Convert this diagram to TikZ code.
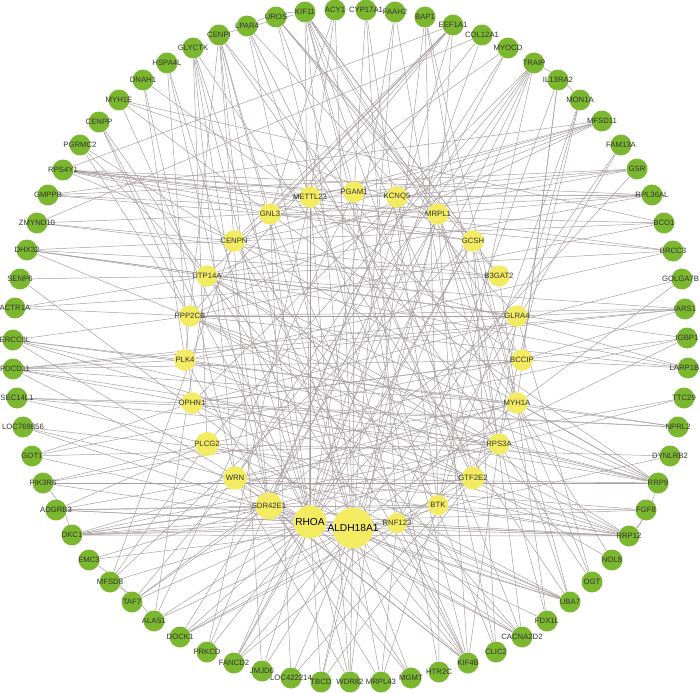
\documentclass[tikz,border=0pt]{standalone}
\usepackage{fontspec}
\setmainfont{Liberation Sans}
\usepackage{xcolor}
\usetikzlibrary{backgrounds}
\definecolor{leaf}{RGB}{124,183,48}
\definecolor{lemon}{RGB}{243,235,98}
\definecolor{wire}{RGB}{168,158,160}
\tikzset{
  tag/.style={font=\fontsize{4.4}{5}\selectfont, text=black!80, inner sep=0pt},
  bigtag/.style={font=\fontsize{5.8}{7}\selectfont, text=black, inner sep=0pt},
  gene/.style={circle, fill=leaf, minimum size=0.42cm, inner sep=0pt, label={[tag]center:#1}},
  rimgene/.style 2 args={circle, fill=leaf, minimum size=0.42cm, inner sep=0pt, label={[tag, xshift=#2]center:#1}},
  hub/.style={circle, fill=lemon, minimum size=0.43cm, inner sep=0pt, label={[tag]center:#1}},
  bighub/.style={circle, fill=lemon, inner sep=0pt, label={[bigtag]center:#1}},
  link/.style={draw=wire, line width=0.28pt},
}

\begin{document}
\begin{tikzpicture}[x=0.02cm, y=-0.02cm]
\useasboundingbox (0,0) rectangle (700,693);

% outer ring
\node[gene=KIF11] (KIF11) at (305,12) {};
\node[gene=ACY1] (ACY1) at (335,10) {};
\node[gene=CYP17A1] (CYP17A1) at (366,10) {};
\node[gene=FAAH2] (FAAH2) at (395,12) {};
\node[gene=BAP1] (BAP1) at (425,17) {};
\node[gene=EEF1A1] (EEF1A1) at (453,25) {};
\node[gene=COL12A1] (COL12A1) at (482,35) {};
\node[gene=MYOCD] (MYOCD) at (508,48) {};
\node[gene=TRAIP] (TRAIP) at (534,63) {};
\node[gene=IL13RA2] (IL13RA2) at (558,80) {};
\node[gene=MON1A] (MON1A) at (580,100) {};
\node[gene=MFSD11] (MFSD11) at (602,121) {};
\node[gene=FAM13A] (FAM13A) at (621,145) {};
\node[gene=GSR] (GSR) at (637,169) {};
\node[gene=RPL36AL] (RPL36AL) at (652,195) {};
\node[gene=BCO1] (BCO1) at (664,223) {};
\node[gene=BRCC3] (BRCC3) at (673,251) {};
\node[rimgene={GOLGA7B}{-0.03cm}] (GOLGA7B) at (682,279) {};
\node[gene=IARS1] (IARS1) at (685,309) {};
\node[gene=IGBP1] (IGBP1) at (687,338) {};
\node[rimgene={LARP1B}{-0.07cm}] (LARP1B) at (688,368) {};
\node[gene=TTC29] (TTC29) at (684,398) {};
\node[gene=NPRL2] (NPRL2) at (678,427) {};
\node[gene=DYNLRB2] (DYNLRB2) at (670,456) {};
\node[gene=RRP9] (RRP9) at (658,483) {};
\node[gene=FGF8] (FGF8) at (646,510) {};
\node[gene=RRP12] (RRP12) at (629,536) {};
\node[gene=NOL8] (NOL8) at (612,560) {};
\node[gene=OGT] (OGT) at (592,582) {};
\node[gene=UBA7] (UBA7) at (570,602) {};
\node[gene=FDX1L] (FDX1L) at (547,621) {};
\node[gene=CACNA2D2] (CACNA2D2) at (522,637) {};
\node[gene=CLIC2] (CLIC2) at (496,652) {};
\node[gene=KIF4B] (KIF4B) at (468,663) {};
\node[gene=HTR2C] (HTR2C) at (439,672) {};
\node[gene=MGMT] (MGMT) at (411,678) {};
\node[gene=MRPL43] (MRPL43) at (381,682) {};
\node[gene=WDR82] (WDR82) at (350,682) {};
\node[gene=TBCD] (TBCD) at (321,682) {};
\node[gene=LOC422214] (LOC422214) at (291,678) {};
\node[gene=JMJD6] (JMJD6) at (262,671) {};
\node[gene=FANCD2] (FANCD2) at (234,663) {};
\node[gene=PRKCD] (PRKCD) at (207,652) {};
\node[gene=DOCK1] (DOCK1) at (180,637) {};
\node[gene=ALAS1] (ALAS1) at (154,621) {};
\node[gene=TAF7] (TAF7) at (132,602) {};
\node[gene=MFSD8] (MFSD8) at (110,582) {};
\node[gene=EMC3] (EMC3) at (89,560) {};
\node[gene=DKC1] (DKC1) at (72,535) {};
\node[gene=ADGRB3] (ADGRB3) at (56,510) {};
\node[gene=PIK3R6] (PIK3R6) at (43,483) {};
\node[gene=GOT1] (GOT1) at (32,456) {};
\node[gene=LOC769856] (LOC769856) at (23,427) {};
\node[gene=SEC14L1] (SEC14L1) at (17,398) {};
\node[rimgene={PDCD11}{0.04cm}] (PDCD11) at (13,369) {};
\node[rimgene={ERCC6L}{0.04cm}] (ERCC6L) at (13,340) {};
\node[gene=ACTR1A] (ACTR1A) at (15,308) {};
\node[gene=SENP6] (SENP6) at (20,279) {};
\node[gene=DHX32] (DHX32) at (27,250) {};
\node[gene=ZMYND10] (ZMYND10) at (37,223) {};
\node[gene=GMPPB] (GMPPB) at (48,195) {};
\node[gene=RPS4Y1] (RPS4Y1) at (63,170) {};
\node[gene=PGRMC2] (PGRMC2) at (80,145) {};
\node[gene=CENPP] (CENPP) at (99,122) {};
\node[gene=MYH1E] (MYH1E) at (119,100) {};
\node[gene=DNAH1] (DNAH1) at (143,80) {};
\node[gene=HSPA4L] (HSPA4L) at (167,63) {};
\node[gene=GLYCTK] (GLYCTK) at (193,48) {};
\node[gene=CENPI] (CENPI) at (219,35) {};
\node[gene=LPAR4] (LPAR4) at (247,26) {};
\node[gene=UROS] (UROS) at (276,17) {};

% inner ring
\node[hub=METTL23] (METTL23) at (310,197) {};
\node[hub=PGAM1] (PGAM1) at (354,192) {};
\node[hub=KCNQ5] (KCNQ5) at (397,197) {};
\node[hub=GNL3] (GNL3) at (270,214) {};
\node[hub=MRPL1] (MRPL1) at (438,214) {};
\node[hub=CENPN] (CENPN) at (234,241) {};
\node[hub=GCSH] (GCSH) at (473,241) {};
\node[hub=UTP14A] (UTP14A) at (207,276) {};
\node[hub=B3GAT2] (B3GAT2) at (499,276) {};
\node[hub=PPP2CB] (PPP2CB) at (190,316) {};
\node[hub=GLRA4] (GLRA4) at (517,316) {};
\node[hub=PLK4] (PLK4) at (185,360) {};
\node[hub=BCCIP] (BCCIP) at (522,360) {};
\node[hub=OPHN1] (OPHN1) at (192,403) {};
\node[hub=MYH1A] (MYH1A) at (517,403) {};
\node[hub=PLCG2, minimum size=0.48cm] (PLCG2) at (207,444) {};
\node[hub=RPS3A] (RPS3A) at (499,444) {};
\node[hub=WRN, minimum size=0.47cm] (WRN) at (235,478) {};
\node[hub=GTF2E2, minimum size=0.46cm] (GTF2E2) at (473,478) {};
\node[hub=SDR42E1, minimum size=0.54cm] (SDR42E1) at (269,506) {};
\node[hub=BTK, minimum size=0.41cm] (BTK) at (438,505) {};
\node[hub=RNF123, minimum size=0.41cm] (RNF123) at (397,523) {};
\node[bighub=RHOA, minimum size=0.66cm] (RHOA) at (310,522) {};
\node[bighub=ALDH18A1, minimum size=0.82cm] (ALDH18A1) at (353,528) {};

\begin{pgfonlayer}{background}
% outer ring to inner ring
\foreach \g/\hs in {
  UROS/{MRPL1,GCSH,RNF123,B3GAT2},
  KIF11/{PGAM1,MRPL1,GCSH,BCCIP,RPS3A,GTF2E2,ALDH18A1,RHOA,B3GAT2},
  ACY1/{GNL3,METTL23,ALDH18A1},
  CYP17A1/{PGAM1,RNF123,BTK},
  FAAH2/{ALDH18A1,RHOA,GTF2E2},
  BAP1/{RPS3A,BTK,MYH1A},
  EEF1A1/{GNL3,CENPN,UTP14A,METTL23,MRPL1,RHOA,PPP2CB},
  COL12A1/{PGAM1,RHOA},
  MYOCD/{SDR42E1,WRN,CENPN},
  TRAIP/{RHOA,ALDH18A1,PLCG2,OPHN1,WRN,BTK},
  IL13RA2/{BCCIP,MYH1A,RNF123},
  MON1A/{RPS3A,GTF2E2,BTK},
  MFSD11/{GNL3,METTL23,UTP14A,PPP2CB,CENPN},
  FAM13A/{ALDH18A1,RNF123},
  GSR/{PGAM1,KCNQ5,CENPN,RHOA},
  RPL36AL/{METTL23,GNL3,MRPL1,KCNQ5,UTP14A},
  BCO1/{PPP2CB,CENPN,GNL3},
  BRCC3/{UTP14A,GNL3,PLK4},
  GOLGA7B/{OPHN1,ALDH18A1},
  IARS1/{PLK4,PPP2CB,BCCIP,GLRA4,UTP14A},
  IGBP1/{OPHN1,PLCG2,RHOA},
  LARP1B/{UTP14A,PPP2CB,CENPN,BCCIP},
  TTC29/{WRN,SDR42E1},
  NPRL2/{MYH1A,OPHN1,PLK4},
  DYNLRB2/{PLCG2,ALDH18A1},
  RRP9/{UTP14A,CENPN,GNL3,PPP2CB,PLK4,OPHN1,MYH1A,RPS3A,WRN},
  FGF8/{RHOA,SDR42E1,WRN},
  RRP12/{UTP14A,PPP2CB,OPHN1,PLCG2,WRN,RHOA,ALDH18A1,BTK,RNF123,GTF2E2},
  NOL8/{PPP2CB,MYH1A},
  OGT/{RPS3A,GLRA4,MRPL1},
  UBA7/{PLCG2,OPHN1,WRN,SDR42E1,RHOA,RNF123,MRPL1,GCSH},
  FDX1L/{MRPL1,B3GAT2,ALDH18A1},
  CACNA2D2/{RNF123,ALDH18A1,RHOA,SDR42E1,UTP14A,GCSH},
  CLIC2/{KCNQ5,GCSH,METTL23},
  KIF4B/{RNF123,RHOA,SDR42E1,WRN,ALDH18A1,CENPN,GNL3,UTP14A,MRPL1,GLRA4},
  HTR2C/{BTK,PGAM1},
  MGMT/{ALDH18A1,RHOA,SDR42E1},
  MRPL43/{ALDH18A1,RNF123,BTK,PLK4},
  WDR82/{RHOA,WRN,ALDH18A1,METTL23},
  TBCD/{GTF2E2,ALDH18A1,RHOA,MRPL1},
  LOC422214/{ALDH18A1,GNL3,RPS3A},
  JMJD6/{ALDH18A1,RHOA,CENPN},
  FANCD2/{RHOA,ALDH18A1,GCSH,RPS3A,MRPL1},
  PRKCD/{METTL23,RHOA,KCNQ5},
  DOCK1/{ALDH18A1,RHOA,BTK,GTF2E2},
  ALAS1/{RHOA,ALDH18A1,UTP14A,PGAM1},
  TAF7/{SDR42E1,RHOA,WRN,GLRA4},
  MFSD8/{RHOA,CENPN,PLCG2,GCSH},
  EMC3/{ALDH18A1,SDR42E1},
  DKC1/{SDR42E1,RHOA,ALDH18A1,RNF123,BTK,GTF2E2,RPS3A,MYH1A},
  ADGRB3/{SDR42E1,RHOA,WRN,PLCG2,BTK},
  PIK3R6/{PLCG2,RHOA,MYH1A},
  GOT1/{OPHN1,ALDH18A1,BCCIP,RPS3A},
  LOC769856/{WRN,RHOA,GTF2E2},
  SEC14L1/{OPHN1,PLCG2,RPS3A},
  PDCD11/{PLK4,OPHN1,BCCIP,MYH1A,GLRA4,RPS3A,RHOA},
  ERCC6L/{PPP2CB,PLK4,RHOA,GTF2E2,MYH1A},
  ACTR1A/{PPP2CB,UTP14A,B3GAT2},
  SENP6/{UTP14A,ALDH18A1},
  DHX32/{UTP14A,CENPN,GLRA4,B3GAT2,RPS3A},
  ZMYND10/{CENPN,GNL3,B3GAT2},
  GMPPB/{GNL3,MRPL1},
  RPS4Y1/{GNL3,METTL23,PGAM1,KCNQ5,MRPL1,GCSH,CENPN},
  PGRMC2/{CENPN,UTP14A,PPP2CB},
  CENPP/{UTP14A,PPP2CB,RHOA},
  MYH1E/{GNL3,MRPL1,RHOA},
  DNAH1/{WRN,PLK4,BCCIP},
  HSPA4L/{SDR42E1,RHOA,OPHN1},
  GLYCTK/{RHOA,ALDH18A1,WRN,PLCG2,SDR42E1},
  CENPI/{GNL3,CENPN,PLK4,RHOA,ALDH18A1,SDR42E1,RPS3A,MYH1A},
  LPAR4/{METTL23,ALDH18A1,GTF2E2,GLRA4}}
  \foreach \h in \hs \draw[link] (\g) -- (\h);

% inner ring among themselves
\foreach \a/\b in {PGAM1/ALDH18A1, METTL23/RHOA, GNL3/RHOA, MRPL1/ALDH18A1,
  GCSH/RHOA, GNL3/GCSH, UTP14A/RPS3A, CENPN/BTK, KCNQ5/SDR42E1, PPP2CB/GLRA4,
  PLK4/GTF2E2, OPHN1/BCCIP, WRN/MYH1A}
  \draw[link] (\a) -- (\b);

% outer ring across
\foreach \a/\b in {RPS4Y1/RPL36AL, EEF1A1/RPS4Y1, COL12A1/ZMYND10, MFSD11/GMPPB,
  DKC1/RRP12, PDCD11/IARS1, ERCC6L/RRP9, DHX32/IGBP1, CENPI/KIF11, MYH1E/BCO1,
  RPS4Y1/BRCC3, GMPPB/GSR, SEC14L1/NPRL2, PIK3R6/RRP9, ADGRB3/RRP12,
  KIF11/KIF4B, UROS/CACNA2D2, BAP1/WDR82, TRAIP/DOCK1, GLYCTK/UBA7}
  \draw[link] (\a) -- (\b);

% along the rim
\foreach \a/\b in {LPAR4/KIF11, TRAIP/MON1A, FGF8/RRP12, RRP9/RRP12,
  PIK3R6/DKC1, EMC3/TAF7, MFSD8/ALAS1}
  \draw[link] (\a) to[bend left=12] (\b);
\end{pgfonlayer}
\end{tikzpicture}
\end{document}
